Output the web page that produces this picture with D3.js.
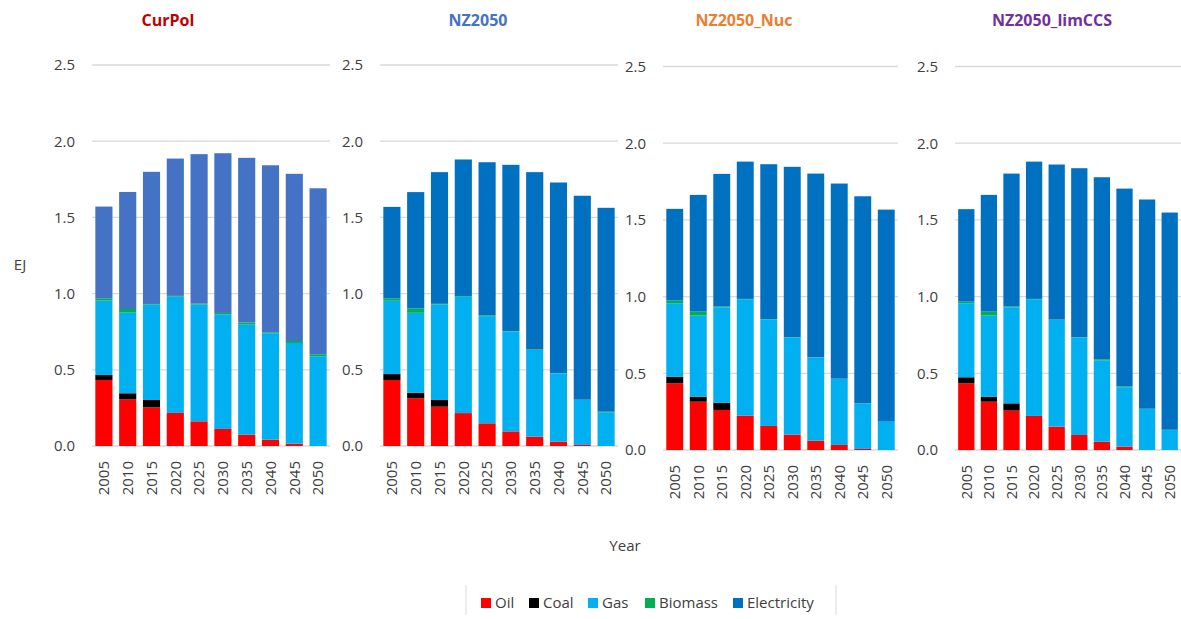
<!DOCTYPE html>
<html>
<head>
<meta charset="utf-8">
<script src="https://cdn.jsdelivr.net/npm/d3@7"></script>
<style>
  html, body { margin: 0; padding: 0; background: #fff; }
  svg { display: block; font-family: "Open Sans", "Noto Sans", sans-serif; }
</style>
</head>
<body>
<svg id="chart" width="1181" height="619"></svg>
<script>
// ---------- data ----------
const years = [2005, 2010, 2015, 2020, 2025, 2030, 2035, 2040, 2045, 2050];
const scenarios = ["CurPol", "NZ2050", "NZ2050_Nuc", "NZ2050_limCCS"];
const fuels = ["Oil", "Coal", "Gas", "Biomass", "Electricity"];
const yTicks = [0, 0.5, 1.0, 1.5, 2.0, 2.5];
const yLabel = "EJ";
const xLabel = "Year";

const oilCurPol   = [0.433, 0.306, 0.254, 0.217, 0.162, 0.112, 0.074, 0.042, 0.015, 0.000];
const coalCurPol  = [0.033, 0.040, 0.048, 0, 0, 0, 0, 0, 0, 0];
const gasCurPol   = [0.488, 0.529, 0.626, 0.763, 0.766, 0.752, 0.722, 0.698, 0.661, 0.589];
const bioCurPol   = [0.015, 0.024, 0.004, 0.005, 0.006, 0.009, 0.014, 0.006, 0.013, 0.013];
const elecCurPol  = [0.602, 0.768, 0.867, 0.901, 0.981, 1.048, 1.081, 1.096, 1.097, 1.089];

const oilNZ   = [0.433, 0.313, 0.258, 0.216, 0.149, 0.096, 0.061, 0.028, 0.007, 0.000];
const coalNZ  = [0.039, 0.037, 0.044, 0, 0, 0, 0, 0, 0, 0];
const gasNZ   = [0.481, 0.524, 0.627, 0.763, 0.703, 0.656, 0.569, 0.449, 0.295, 0.219];
const bioNZ   = [0.015, 0.029, 0.004, 0.005, 0.005, 0.002, 0.004, 0.002, 0.002, 0.006];
const elecNZ  = [0.601, 0.763, 0.864, 0.896, 1.005, 1.091, 1.163, 1.250, 1.338, 1.338];

const oilNuc   = [0.435, 0.315, 0.261, 0.224, 0.157, 0.100, 0.061, 0.033, 0.007, 0.000];
const coalNuc  = [0.043, 0.033, 0.048, 0, 0, 0, 0, 0, 0, 0];
const gasNuc   = [0.479, 0.528, 0.621, 0.759, 0.695, 0.633, 0.541, 0.430, 0.295, 0.189];
const bioNuc   = [0.017, 0.026, 0.005, 0.002, 0.002, 0.002, 0.002, 0.002, 0.002, 0.000];
const elecNuc  = [0.598, 0.761, 0.865, 0.895, 1.009, 1.111, 1.198, 1.272, 1.350, 1.378];

const oilLim   = [0.435, 0.315, 0.257, 0.222, 0.152, 0.098, 0.054, 0.022, 0.000, 0.000];
const coalLim  = [0.039, 0.033, 0.047, 0, 0, 0, 0, 0, 0, 0];
const gasLim   = [0.483, 0.528, 0.626, 0.761, 0.696, 0.635, 0.529, 0.387, 0.267, 0.130];
const bioLim   = [0.010, 0.026, 0.005, 0.002, 0.002, 0.002, 0.008, 0.006, 0.002, 0.002];
const elecLim  = [0.603, 0.761, 0.867, 0.895, 1.011, 1.102, 1.187, 1.289, 1.364, 1.416];

const seriesByScenario = {
  CurPol:        [oilCurPol, coalCurPol, gasCurPol, bioCurPol, elecCurPol],
  NZ2050:        [oilNZ, coalNZ, gasNZ, bioNZ, elecNZ],
  NZ2050_Nuc:    [oilNuc, coalNuc, gasNuc, bioNuc, elecNuc],
  NZ2050_limCCS: [oilLim, coalLim, gasLim, bioLim, elecLim]
};

// ---------- styles / layout ----------
const fuelColors = ["#FF0000", "#000000", "#00B0F0", "#00B050", "#0070C0"];
const elecColorCurPol = "#4472C4";
const titleColors = ["#C00000", "#4472C4", "#ED7D31", "#7030A0"];
const panels = [
  { x0: 92,  x1: 330,  yZero: 446, yTop: 65,   titleX: 168 },
  { x0: 380, x1: 618,  yZero: 446, yTop: 65,   titleX: 478 },
  { x0: 663, x1: 898,  yZero: 450, yTop: 66.5, titleX: 744 },
  { x0: 955, x1: 1181, yZero: 450, yTop: 66.5, titleX: 1052 }
];
const legendX = [481, 529, 588, 645, 733];
const textColor = "#404040";
const gridColor = "#d9d9d9";

const svg = d3.select("#chart");

scenarios.forEach((sc, i) => {
  const p = panels[i];
  const g = svg.append("g");
  const x = d3.scaleBand().domain(years).range([p.x0, p.x1]).paddingInner(0.28).paddingOuter(0.14);
  const y = d3.scaleLinear().domain([0, 2.5]).range([p.yZero, p.yTop]);

  // gridlines
  g.selectAll("line.grid").data(yTicks).join("line")
    .attr("x1", p.x0).attr("x2", p.x1)
    .attr("y1", d => y(d)).attr("y2", d => y(d))
    .attr("stroke", gridColor).attr("stroke-width", 1.3);

  // y axis labels
  const yAxis = d3.axisLeft(y).tickValues(yTicks).tickFormat(d3.format(".1f")).tickSize(0).tickPadding(17);
  const ya = g.append("g").attr("transform", `translate(${p.x0},0)`).call(yAxis);
  ya.select(".domain").remove();
  ya.selectAll("text").attr("fill", textColor).style("font-size", "15px").style("font-family", "Open Sans");

  // stacked bars
  const rows = years.map((yr, j) => {
    const o = { year: yr };
    fuels.forEach((f, k) => { o[f] = seriesByScenario[sc][k][j]; });
    return o;
  });
  const stack = d3.stack().keys(fuels)(rows);
  const colors = fuelColors.slice();
  if (sc === "CurPol") colors[4] = elecColorCurPol;

  g.selectAll("g.layer").data(stack).join("g")
    .attr("fill", (d, k) => colors[k])
    .selectAll("rect").data(d => d).join("rect")
    .attr("x", d => x(d.data.year))
    .attr("width", x.bandwidth())
    .attr("y", d => y(d[1]))
    .attr("height", d => Math.max(0, y(d[0]) - y(d[1])));

  // x axis labels
  const xAxis = d3.axisBottom(x).tickSize(0).tickPadding(0);
  const xa = g.append("g").attr("transform", `translate(0,${p.yZero})`).call(xAxis);
  xa.select(".domain").remove();
  xa.selectAll("text")
    .attr("fill", textColor).style("font-size", "15px").style("font-family", "Open Sans")
    .attr("transform", "rotate(-90)")
    .attr("text-anchor", "end")
    .attr("x", -15).attr("y", 0).attr("dy", "0.35em");

  // title
  svg.append("text").attr("x", p.titleX).attr("y", 26)
    .attr("text-anchor", "middle").attr("fill", titleColors[i])
    .style("font-size", "16px").style("font-weight", "bold")
    .text(sc);
});

// axis titles
svg.append("text").attr("x", 20).attr("y", 270).attr("text-anchor", "middle")
  .attr("fill", textColor).style("font-size", "15px").text(yLabel);
svg.append("text").attr("x", 625).attr("y", 551).attr("text-anchor", "middle")
  .attr("fill", textColor).style("font-size", "15px").text(xLabel);

// legend
const legend = svg.append("g");
legend.append("line").attr("x1", 466).attr("x2", 466).attr("y1", 585).attr("y2", 615).attr("stroke", gridColor);
legend.append("line").attr("x1", 836).attr("x2", 836).attr("y1", 585).attr("y2", 615).attr("stroke", gridColor);
fuels.forEach((f, k) => {
  const item = legend.append("g");
  item.append("rect").attr("x", legendX[k]).attr("y", 598).attr("width", 10).attr("height", 10).attr("fill", fuelColors[k]);
  item.append("text").attr("x", legendX[k] + 14).attr("y", 608).attr("fill", textColor)
    .style("font-size", "15px").text(f);
});
</script>
</body>
</html>
